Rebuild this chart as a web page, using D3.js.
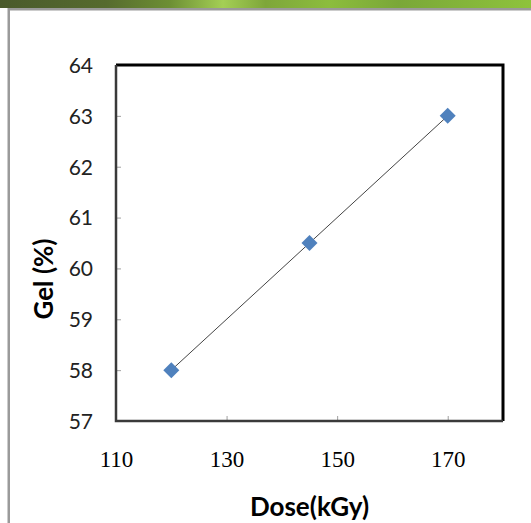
<!DOCTYPE html>
<html>
<head>
<meta charset="utf-8">
<script src="https://cdn.jsdelivr.net/npm/d3@7"></script>
<style>
  html, body { margin: 0; padding: 0; background: #fff; }
  svg { display: block; }
</style>
</head>
<body>
<div id="canvas"></div>
<script>
const dose = [120, 145, 170];
const gel = [58, 60.5, 63];
const xTicks = [110, 130, 150, 170];
const yTicks = [57, 58, 59, 60, 61, 62, 63, 64];

const W = 531, H = 523;
const padL = 116, padR = 503, padT = 65, padB = 421;

const svg = d3.select('#canvas')
    .append('svg')
    .attr('width', W)
    .attr('height', H);

// slide header band
const grad = svg.append('defs').append('linearGradient')
    .attr('id', 'band');
[[0, '#4a5a2c'], [0.2, '#566b2e'], [0.32, '#6d8f34'], [0.42, '#a4cf55'],
 [0.5, '#7ea63a'], [0.62, '#8cbd3d'], [0.75, '#7aa738'], [1, '#8ec33c']]
  .forEach(s => grad.append('stop').attr('offset', s[0]).attr('stop-color', s[1]));

svg.append('rect')
    .attr('x', 0).attr('y', 0)
    .attr('width', W).attr('height', 8)
    .attr('fill', 'url(#band)');
svg.append('rect')
    .attr('x', 8).attr('y', 8)
    .attr('width', W - 8).attr('height', 2.5)
    .attr('fill', '#9a9a9a');
svg.append('rect')
    .attr('x', 7.5).attr('y', 8)
    .attr('width', 2.5).attr('height', H - 8)
    .attr('fill', '#9a9a9a');

const x = d3.scaleLinear().domain([110, 180]).range([padL, padR]);
const y = d3.scaleLinear().domain([57, 64]).range([padB, padT]);

// axes, ticks pointing inward
const xAxis = d3.axisBottom(x)
    .tickValues(xTicks)
    .tickSize(-5)
    .tickPadding(0)
    .tickFormat(d3.format('d'));
const yAxis = d3.axisLeft(y)
    .tickValues(yTicks)
    .tickSize(-5)
    .tickPadding(0)
    .tickFormat(d3.format('d'));

const gx = svg.append('g')
    .attr('transform', `translate(0, ${padB})`)
    .call(xAxis);
gx.select('.domain').remove();
gx.selectAll('.tick line').attr('stroke', '#a0a0a0');
gx.selectAll('.tick text')
    .attr('y', 0)
    .attr('dy', null)
    .attr('transform', 'translate(0, 46)')
    .attr('font-family', '"Liberation Serif", "Times New Roman", serif')
    .attr('font-size', 23)
    .attr('fill', '#000');

const gy = svg.append('g')
    .attr('transform', `translate(${padL}, 0)`)
    .call(yAxis);
gy.select('.domain').remove();
gy.selectAll('.tick line').attr('stroke', '#a0a0a0');
gy.selectAll('.tick text')
    .attr('x', -23)
    .attr('dy', '0.35em')
    .attr('font-family', 'Lato, "Noto Sans", sans-serif')
    .attr('font-size', 21)
    .attr('fill', '#222');

// plot frame
svg.append('path')
    .attr('d', `M${padL},${padT} H${padR} V${padB}`)
    .attr('fill', 'none')
    .attr('stroke', '#000')
    .attr('stroke-width', 3);
svg.append('path')
    .attr('d', `M${padL},${padT} V${padB} H${padR}`)
    .attr('fill', 'none')
    .attr('stroke', '#3a3a3a')
    .attr('stroke-width', 2.5);

// trend line
const pts = dose.map((d, i) => [d, gel[i]]);
svg.append('path')
    .datum(pts)
    .attr('d', d3.line().x(d => x(d[0])).y(d => y(d[1])))
    .attr('fill', 'none')
    .attr('stroke', '#444')
    .attr('stroke-width', 1);

// markers
svg.selectAll('.pt')
    .data(pts)
    .enter()
    .append('path')
    .attr('class', 'pt')
    .attr('transform', d => `translate(${x(d[0])}, ${y(d[1])})`)
    .attr('d', 'M0,-8 L8,0 L0,8 L-8,0 Z')
    .attr('fill', '#4f81bd');

// axis titles
svg.append('text')
    .text('Dose(kGy)')
    .attr('x', (padL + padR) / 2)
    .attr('y', 516)
    .attr('text-anchor', 'middle')
    .attr('font-family', 'Lato, "Noto Sans", sans-serif')
    .attr('font-weight', 'bold')
    .attr('font-size', 26)
    .attr('fill', '#000');

svg.append('text')
    .text('Gel (%)')
    .attr('transform', 'translate(53, 279) rotate(-90)')
    .attr('text-anchor', 'middle')
    .attr('font-family', 'Lato, "Noto Sans", sans-serif')
    .attr('font-weight', 'bold')
    .attr('font-size', 26)
    .attr('fill', '#000');
</script>
</body>
</html>
